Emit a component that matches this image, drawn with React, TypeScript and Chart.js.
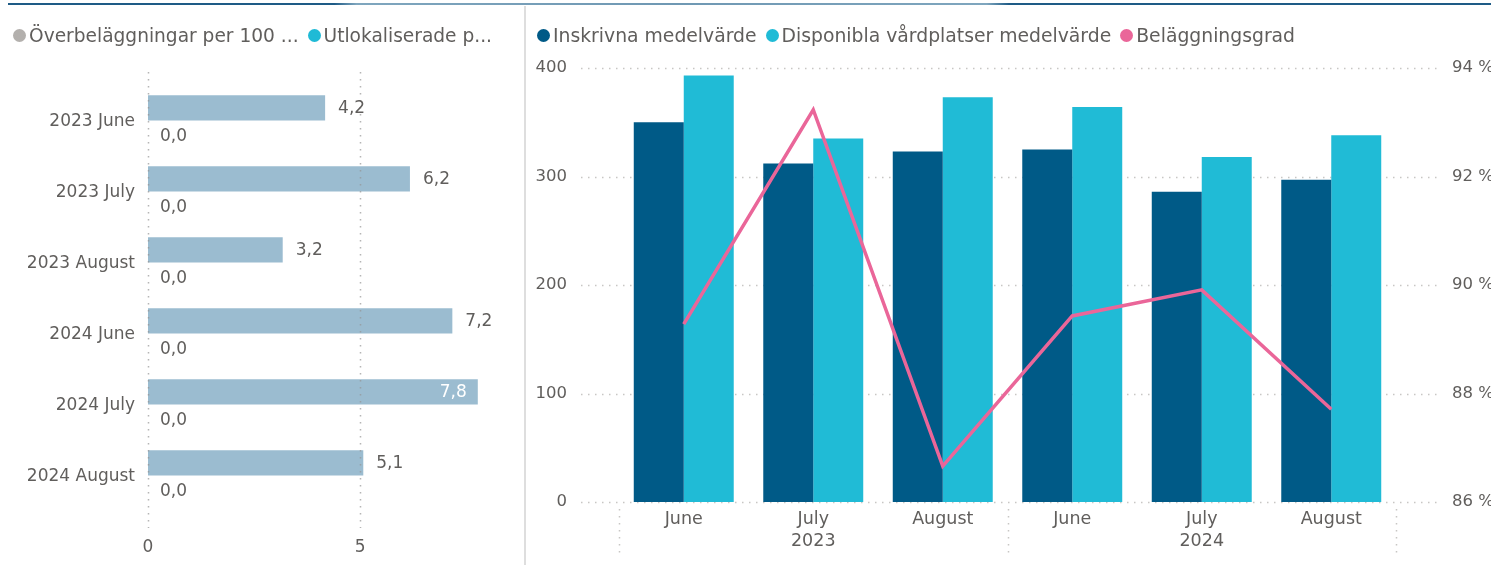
import React, { useEffect, useRef } from "react";
import { Chart, registerables } from "chart.js";
Chart.register(...registerables);

// ---------- data ----------
const leftCategories = ["2023 June", "2023 July", "2023 August", "2024 June", "2024 July", "2024 August"];
const overbelaggningar = [4.2, 6.2, 3.2, 7.2, 7.8, 5.1];
const utlokaliserade = [0, 0, 0, 0, 0, 0];
const leftSeriesNames = ["Överbeläggningar per 100 ...", "Utlokaliserade p..."];
const leftXTicks = [0, 5];

const months = ["June", "July", "August", "June", "July", "August"];
const monthYears = ["2023", "2023", "2023", "2024", "2024", "2024"];
const inskrivna = [350, 312, 323, 325, 286, 297];
const disponibla = [393, 335, 373, 364, 318, 338];
const belaggningsgrad = [89.28, 93.23, 86.66, 89.43, 89.91, 87.71];
const rightSeriesNames = ["Inskrivna medelvärde", "Disponibla vårdplatser medelvärde", "Beläggningsgrad"];
const countTicks = [0, 100, 200, 300, 400];
const percentTicks = [86, 88, 90, 92, 94];

// ---------- styles ----------
const FONT = '"DejaVu Sans", Verdana, sans-serif';
const TEXT = "#605E5C";
const GRID = "#C8C6C4";
const leftBarColor = "#9BBCD0";
const leftLegendColors = ["#B3B0AD", "#1FBAD6"];
const darkBlue = "#005A87";
const lightBlue = "#20BBD6";
const pink = "#EA6699";
const rightLegendColors = [darkBlue, lightBlue, pink];

const fmt = (v: number) => v.toFixed(1).replace(".", ",");

function Legend({
  names,
  colors,
  left,
  size,
}: {
  names: string[];
  colors: string[];
  left: number;
  size: number;
}) {
  return (
    <div
      style={{
        position: "absolute",
        left,
        top: 24,
        height: 22,
        display: "flex",
        alignItems: "center",
        whiteSpace: "nowrap",
        fontFamily: FONT,
        fontSize: size,
        color: TEXT,
        zIndex: 2,
      }}
    >
      {names.map((n, i) => (
        <span key={i} style={{ display: "flex", alignItems: "center", marginRight: 9 }}>
          <span
            style={{
              display: "inline-block",
              width: 13,
              height: 13,
              borderRadius: "50%",
              background: colors[i],
              marginRight: 3,
            }}
          />
          <span>{n}</span>
        </span>
      ))}
    </div>
  );
}

export default function App() {
  const leftRef = useRef<HTMLCanvasElement | null>(null);
  const rightRef = useRef<HTMLCanvasElement | null>(null);

  useEffect(() => {
    document.body.style.margin = "0";

    // ---------- left chart ----------
    const leftGridPlugin = {
      id: "leftGrid",
      afterDatasetsDraw(chart: any) {
        const ctx = chart.ctx;
        const xs = chart.scales.x;
        ctx.save();
        ctx.strokeStyle = "rgba(150,150,150,0.7)";
        ctx.lineWidth = 1.5;
        ctx.setLineDash([1.5, 5.5]);
        leftXTicks.forEach((t) => {
          const x = Math.round(xs.getPixelForValue(t)) + 0.5;
          ctx.beginPath();
          ctx.moveTo(x, 72);
          ctx.lineTo(x, 528);
          ctx.stroke();
        });
        ctx.restore();
      },
    };
    const leftLabelsPlugin = {
      id: "leftLabels",
      afterDatasetsDraw(chart: any) {
        const ctx = chart.ctx;
        ctx.save();
        ctx.font = `17px ${FONT}`;
        ctx.textBaseline = "middle";
        chart.data.datasets.forEach((ds: any, di: number) => {
          const meta = chart.getDatasetMeta(di);
          meta.data.forEach((bar: any, i: number) => {
            const v = ds.data[i] as number;
            const txt = fmt(v);
            const w = ctx.measureText(txt).width;
            const { x, y } = bar.getProps(["x", "y"], true);
            if (x + 12 + w > chart.chartArea.right) {
              ctx.fillStyle = "#FFFFFF";
              ctx.textAlign = "right";
              ctx.fillText(txt, x - 12, y + 1);
            } else {
              ctx.fillStyle = TEXT;
              ctx.textAlign = "left";
              ctx.fillText(txt, x + 12, y + 1);
            }
          });
        });
        ctx.restore();
      },
    };

    const left = new Chart(leftRef.current!, {
      type: "bar",
      data: {
        labels: leftCategories,
        datasets: [
          {
            label: leftSeriesNames[0],
            data: overbelaggningar,
            backgroundColor: leftBarColor,
            borderColor: "rgba(255,255,255,0.55)",
            borderWidth: 1,
            categoryPercentage: 0.766,
            barPercentage: 1,
          },
          {
            label: leftSeriesNames[1],
            data: utlokaliserade,
            backgroundColor: leftLegendColors[1],
            categoryPercentage: 0.766,
            barPercentage: 1,
          },
        ],
      },
      options: {
        indexAxis: "y",
        responsive: false,
        animation: false,
        layout: { padding: { top: 86, right: 25, left: 0, bottom: 0 } },
        plugins: { legend: { display: false }, tooltip: { enabled: false } },
        scales: {
          x: {
            type: "linear",
            min: 0,
            max: 8.3,
            afterBuildTicks: (s: any) => {
              s.ticks = leftXTicks.map((v) => ({ value: v }));
            },
            afterFit: (s: any) => {
              s.height = 53;
            },
            grid: { display: false, drawTicks: false },
            border: { display: false },
            ticks: { color: TEXT, font: { family: FONT, size: 17 }, padding: 25 },
          },
          y: {
            type: "category",
            afterFit: (s: any) => {
              s.width = 148;
            },
            grid: { display: false, drawTicks: false },
            border: { display: false },
            ticks: { color: TEXT, font: { family: FONT, size: 17 }, padding: 13 },
          },
        },
      } as any,
      plugins: [leftGridPlugin, leftLabelsPlugin],
    });

    // ---------- right chart ----------
    const rightGridPlugin = {
      id: "rightGrid",
      beforeDatasetsDraw(chart: any) {
        const ctx = chart.ctx;
        const ys = chart.scales.y;
        ctx.save();
        ctx.strokeStyle = GRID;
        ctx.lineWidth = 1.5;
        ctx.setLineDash([1.5, 5.5]);
        countTicks.forEach((t) => {
          const y = Math.round(ys.getPixelForValue(t)) + 0.5;
          ctx.beginPath();
          ctx.moveTo(54, y);
          ctx.lineTo(911, y);
          ctx.stroke();
        });
        ctx.restore();
      },
    };
    const yearAxisPlugin = {
      id: "yearAxis",
      afterDraw(chart: any) {
        const ctx = chart.ctx;
        const xs = chart.scales.x;
        const band = xs.getPixelForValue(1) - xs.getPixelForValue(0);
        const groups: { year: string; start: number; end: number }[] = [];
        monthYears.forEach((yr, i) => {
          const g = groups[groups.length - 1];
          if (g && g.year === yr) g.end = i;
          else groups.push({ year: yr, start: i, end: i });
        });
        ctx.save();
        ctx.strokeStyle = GRID;
        ctx.lineWidth = 1.5;
        ctx.setLineDash([1.5, 5.5]);
        const bounds: number[] = [];
        groups.forEach((g, gi) => {
          if (gi === 0) bounds.push(xs.getPixelForValue(g.start) - band / 2);
          bounds.push(xs.getPixelForValue(g.end) + band / 2);
        });
        bounds.forEach((bx) => {
          const x = Math.round(bx) + 0.5;
          ctx.beginPath();
          ctx.moveTo(x, 509);
          ctx.lineTo(x, 556);
          ctx.stroke();
        });
        ctx.setLineDash([]);
        ctx.fillStyle = TEXT;
        ctx.font = `17.5px ${FONT}`;
        ctx.textAlign = "center";
        ctx.textBaseline = "middle";
        groups.forEach((g) => {
          const cx = (xs.getPixelForValue(g.start) + xs.getPixelForValue(g.end)) / 2;
          ctx.fillText(g.year, cx, 541);
        });
        ctx.restore();
      },
    };

    const right = new Chart(rightRef.current!, {
      type: "bar",
      data: {
        labels: months,
        datasets: [
          {
            type: "line",
            label: rightSeriesNames[2],
            data: belaggningsgrad,
            yAxisID: "y1",
            borderColor: pink,
            backgroundColor: pink,
            borderWidth: 3.5,
            pointRadius: 0,
            tension: 0,
            order: 0,
          },
          {
            label: rightSeriesNames[0],
            data: inskrivna,
            yAxisID: "y",
            backgroundColor: darkBlue,
            categoryPercentage: 0.772,
            barPercentage: 1,
            order: 1,
          },
          {
            label: rightSeriesNames[1],
            data: disponibla,
            yAxisID: "y",
            backgroundColor: lightBlue,
            categoryPercentage: 0.772,
            barPercentage: 1,
            order: 1,
          },
        ],
      },
      options: {
        responsive: false,
        animation: false,
        layout: { padding: { top: 68, right: 0, left: 0, bottom: 0 } },
        plugins: { legend: { display: false }, tooltip: { enabled: false } },
        scales: {
          x: {
            type: "category",
            afterFit: (s: any) => {
              s.height = 63;
            },
            grid: { display: false, drawTicks: false },
            border: { display: false },
            ticks: {
              color: TEXT,
              font: { family: FONT, size: 17.5 },
              padding: 7,
              autoSkip: false,
              maxRotation: 0,
            },
          },
          y: {
            type: "linear",
            position: "left",
            min: 0,
            max: 400,
            afterBuildTicks: (s: any) => {
              s.ticks = countTicks.map((v) => ({ value: v }));
            },
            afterFit: (s: any) => {
              s.width = 92;
            },
            grid: { display: false, drawTicks: true, tickLength: 46 },
            border: { display: false },
            ticks: { color: TEXT, font: { family: FONT, size: 16.5 }, padding: 6 },
          },
          y1: {
            type: "linear",
            position: "right",
            min: 86,
            max: 94,
            afterBuildTicks: (s: any) => {
              s.ticks = percentTicks.map((v) => ({ value: v }));
            },
            afterFit: (s: any) => {
              s.width = 95;
            },
            grid: { display: false, drawTicks: true, tickLength: 50 },
            border: { display: false },
            ticks: {
              color: TEXT,
              font: { family: FONT, size: 16.5 },
              padding: 6,
              callback: (v: any) => `${v} %`,
            },
          },
        },
      } as any,
      plugins: [rightGridPlugin, yearAxisPlugin],
    });

    return () => {
      left.destroy();
      right.destroy();
    };
  }, []);

  return (
    <div
      style={{
        position: "absolute",
        left: 0,
        top: 0,
        width: 1491,
        height: 565,
        overflow: "hidden",
        background: "#FFFFFF",
      }}
    >
      <div
        style={{
          position: "absolute",
          left: 8,
          top: 3,
          width: 1483,
          height: 2,
          background:
            "linear-gradient(to right, #1E5B86 0%, #1E5B86 22%, #7FA6BE 23.5%, #6F98B3 45%, #7FA6BE 66%, #1E5B86 67.5%, #1E5B86 100%)",
        }}
      />
      <div
        style={{ position: "absolute", left: 524, top: 6, width: 2, height: 559, background: "#DEDEDE" }}
      />
      <div style={{ position: "absolute", left: 0, top: 0, width: 525, height: 565 }}>
        <canvas ref={leftRef} width={525} height={565} style={{ display: "block" }} />
      </div>
      <div style={{ position: "absolute", left: 527, top: 0, width: 964, height: 565 }}>
        <canvas ref={rightRef} width={964} height={565} style={{ display: "block" }} />
      </div>
      <Legend names={leftSeriesNames} colors={leftLegendColors} left={13} size={18.6} />
      <Legend names={rightSeriesNames} colors={rightLegendColors} left={537} size={18.8} />
    </div>
  );
}
